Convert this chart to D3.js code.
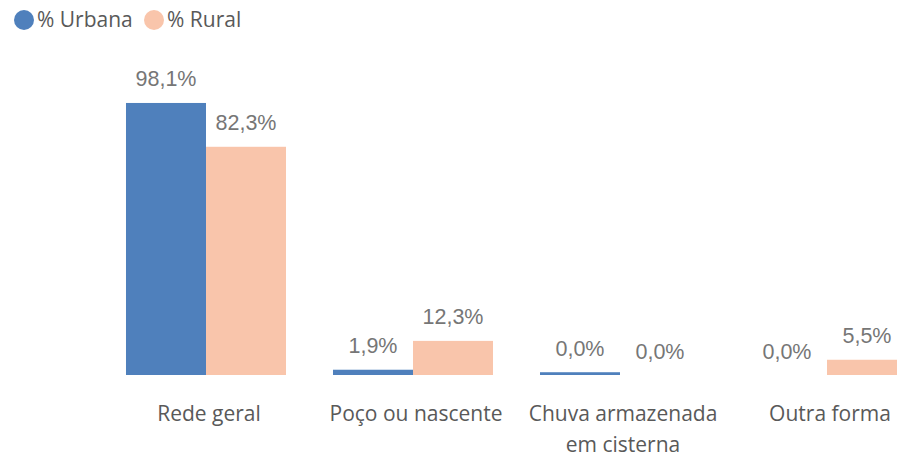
<!DOCTYPE html>
<html>
<head>
<meta charset="utf-8">
<script src="https://cdn.jsdelivr.net/npm/d3@7"></script>
<style>
  html, body { margin: 0; padding: 0; background: #fff; }
  svg { display: block; }
</style>
</head>
<body>
<div id="chart"></div>
<script>
const categories = [["Rede geral"], ["Poço ou nascente"], ["Chuva armazenada", "em cisterna"], ["Outra forma"]];
const seriesNames = ["% Urbana", "% Rural"];
const urbana = [98.1, 1.9, 1.0, 0.0];
const rural = [82.3, 12.3, 0.0, 5.5];
const urbanaLabels = ["98,1%", "1,9%", "0,0%", "0,0%"];
const ruralLabels = ["82,3%", "12,3%", "0,0%", "5,5%"];
const colors = ["#4F80BC", "#F9C5AB"];

const W = 897, H = 458;
const svg = d3.select("#chart").append("svg").attr("width", W).attr("height", H);

const baseY = 375;
const y = d3.scaleLinear().domain([0, 100]).range([baseY, baseY - 277.3]);
const x = d3.scaleBand().domain(d3.range(categories.length)).range([79, 954]).padding(0.227);
const xs = d3.scaleBand().domain([0, 1]).range([0, x.bandwidth()]);

const series = [urbana, rural];
const labels = [urbanaLabels, ruralLabels];

series.forEach((vals, si) => {
  const g = svg.append("g");
  g.selectAll("rect").data(vals).join("rect")
    .attr("x", (d, i) => x(i) + xs(si))
    .attr("width", xs.bandwidth())
    .attr("y", d => y(d))
    .attr("height", d => baseY - y(d))
    .attr("fill", colors[si]);
  g.selectAll("text").data(vals).join("text")
    .attr("x", (d, i) => x(i) + xs(si) + xs.bandwidth() / 2)
    .attr("y", d => y(d) - 16.5)
    .attr("text-anchor", "middle")
    .attr("font-family", "Liberation Sans, Arial, sans-serif")
    .attr("font-size", 21.5)
    .attr("fill", "#767676")
    .text((d, i) => labels[si][i]);
});

// category labels
const cat = svg.append("g");
categories.forEach((lines, i) => {
  const t = cat.append("text")
    .attr("text-anchor", "middle")
    .attr("font-family", "Open Sans, sans-serif")
    .attr("font-size", 21)
    .attr("fill", "#595959");
  lines.forEach((ln, li) => {
    t.append("tspan")
      .attr("x", x(i) + x.bandwidth() / 2 + 3)
      .attr("y", 421 + li * 31)
      .text(ln);
  });
});

// legend
const leg = svg.append("g");
const legX = [24, 154];
seriesNames.forEach((n, i) => {
  leg.append("circle").attr("cx", legX[i]).attr("cy", 20).attr("r", 10).attr("fill", colors[i]);
  leg.append("text").attr("x", legX[i] + 13).attr("y", 27)
    .attr("font-family", "Open Sans, sans-serif")
    .attr("font-size", 21)
    .attr("fill", "#595959")
    .text(n);
});
</script>
</body>
</html>
